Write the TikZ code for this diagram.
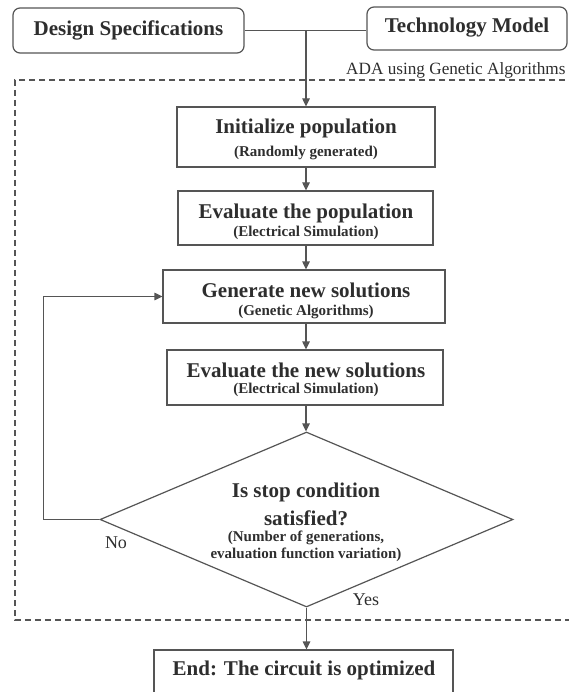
\documentclass[tikz,border=0pt]{standalone}
\usepackage{fontspec}
\setmainfont{Liberation Serif}
\usetikzlibrary{shapes.geometric,arrows.meta}
\definecolor{linec}{HTML}{555555}
\definecolor{textc}{HTML}{2E2E2E}
\tikzset{
  boxst/.style={draw=linec, line width=1.2pt, rectangle, inner sep=0pt},
  rboxst/.style={boxst, rounded corners=7pt},
  lnst/.style={draw=linec, line width=1.2pt},
  arrst/.style={lnst, -{Triangle[length=8pt,width=7.5pt]}},
  dashst/.style={draw=linec, line width=1.2pt, dash pattern=on 6pt off 4pt},
  tmain/.style={font=\fontsize{21}{24}\selectfont\bfseries, text=textc, inner sep=0pt},
  tsub/.style={font=\fontsize{15}{17}\selectfont\bfseries, text=textc, inner sep=0pt},
  treg/.style={font=\fontsize{18}{20}\selectfont, text=textc, inner sep=0pt},
}
\begin{document}
\begin{tikzpicture}[x=1pt,y=-1pt]
\useasboundingbox (0,0) rectangle (569,692);
\clip (0,0) rectangle (569,692);
\fill[white] (0,0) rectangle (569,692);

% dashed frame
\draw[dashst] (585,80) -- (15,80) -- (15,620) -- (585,620);
\node[treg, font=\fontsize{17.2}{19}\selectfont, anchor=west] (ada) at (346,70) {ADA using Genetic Algorithms};

% top boxes
\node[rboxst, minimum width=231pt, minimum height=45pt] (ds) at (128.5,30.5) {};
\node[tmain] (dst) at (128.5,30) {Design Specifications};
\node[rboxst, minimum width=200pt, minimum height=43pt] (tm) at (467,28.5) {};
\node[tmain] (tmt) at (467,28) {Technology Model};

% main boxes
\node[boxst, minimum width=258pt, minimum height=60pt] (init) at (306,137) {};
\node[tmain] (initt) at (306,128) {Initialize population};
\node[tsub] (inits) at (306,153) {(Randomly generated)};

\node[boxst, minimum width=255pt, minimum height=54pt] (evp) at (305.5,218) {};
\node[tmain] (evpt) at (306,213) {Evaluate the population};
\node[tsub] (evps) at (306,233) {(Electrical Simulation)};

\node[boxst, minimum width=282pt, minimum height=53pt] (gen) at (304,296.5) {};
\node[tmain] (gent) at (306,290) {Generate new solutions};
\node[tsub] (gens) at (306,312) {(Genetic Algorithms)};

\node[boxst, minimum width=276pt, minimum height=55pt] (evn) at (305,377.5) {};
\node[tmain] (evnt) at (306,370) {Evaluate the new solutions};
\node[tsub] (evns) at (306,390) {(Electrical Simulation)};

\node[draw=linec, line width=1.2pt, shape=diamond, inner sep=0pt,
      minimum width=413pt, minimum height=175pt] (dec) at (306.5,519.5) {};
\node[tmain] (dect1) at (306,492) {Is stop condition};
\node[tmain] (dect2) at (306,518) {satisfied?};
\node[tsub] (decs1) at (306,538) {(Number of generations,};
\node[tsub] (decs2) at (306,555) {evaluation function variation)};

\node[boxst, minimum width=299pt, minimum height=60pt] (endb) at (303.5,680) {};
\node[tmain] (endt) at (304,670) {End: The circuit is optimized};

\node[treg] (no) at (116,543) {No};
\node[treg] (yes) at (366,600) {Yes};

% connectors
\draw[lnst] (ds.east) -- (ds.east -| tm.west);
\coordinate (junc) at (306,30.5);
\draw[arrst] (junc) -- (init.north -| junc);
\draw[arrst] (init.south -| junc) -- (evp.north -| junc);
\draw[arrst] (evp.south -| junc) -- (gen.north -| junc);
\draw[arrst] (gen.south -| junc) -- (evn.north -| junc);
\draw[arrst] (evn.south -| junc) -- (dec.north -| junc);
\draw[arrst] (dec.south) -- (endb.north -| dec.south);
\draw[arrst] (dec.west) -- ++(-56,0) |- (gen.west);
\end{tikzpicture}
\end{document}
